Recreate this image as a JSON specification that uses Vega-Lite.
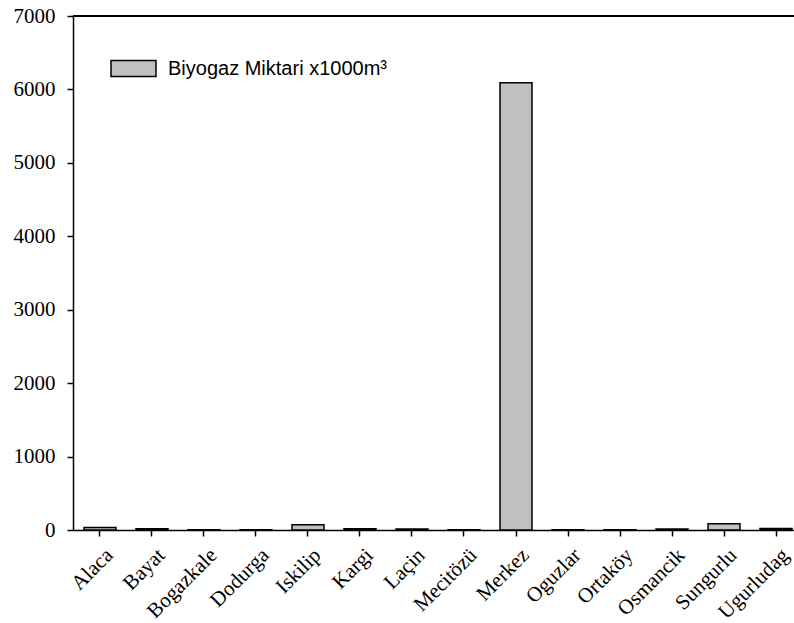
{
  "$schema": "https://vega.github.io/schema/vega-lite/v6.json",
  "autosize": {"type": "none"},
  "padding": {"left": 73, "top": 16, "right": 0, "bottom": 93},
  "width": 721,
  "height": 514,
  "background": "white",
  "config": {
    "view": {"stroke": null},
    "axis": {
      "domainColor": "black",
      "domainWidth": 1.5,
      "tickColor": "black",
      "tickWidth": 1.5,
      "tickSize": 6,
      "grid": false,
      "labelColor": "black",
      "labelFont": "Liberation Serif",
      "labelFontSize": 21,
      "title": null
    }
  },
  "data": {
    "values": [
      {"ilce": "Alaca", "biyogaz": 35, "series": "Biyogaz Miktari x1000m³"},
      {"ilce": "Bayat", "biyogaz": 18, "series": "Biyogaz Miktari x1000m³"},
      {"ilce": "Bogazkale", "biyogaz": 2, "series": "Biyogaz Miktari x1000m³"},
      {"ilce": "Dodurga", "biyogaz": 2, "series": "Biyogaz Miktari x1000m³"},
      {"ilce": "Iskilip", "biyogaz": 72, "series": "Biyogaz Miktari x1000m³"},
      {"ilce": "Kargi", "biyogaz": 18, "series": "Biyogaz Miktari x1000m³"},
      {"ilce": "Laçin", "biyogaz": 15, "series": "Biyogaz Miktari x1000m³"},
      {"ilce": "Mecitözü", "biyogaz": 3, "series": "Biyogaz Miktari x1000m³"},
      {"ilce": "Merkez", "biyogaz": 6090, "series": "Biyogaz Miktari x1000m³"},
      {"ilce": "Oguzlar", "biyogaz": 2, "series": "Biyogaz Miktari x1000m³"},
      {"ilce": "Ortaköy", "biyogaz": 2, "series": "Biyogaz Miktari x1000m³"},
      {"ilce": "Osmancik", "biyogaz": 15, "series": "Biyogaz Miktari x1000m³"},
      {"ilce": "Sungurlu", "biyogaz": 86, "series": "Biyogaz Miktari x1000m³"},
      {"ilce": "Ugurludag", "biyogaz": 20, "series": "Biyogaz Miktari x1000m³"}
    ]
  },
  "layer": [
    {
      "mark": {"type": "bar", "stroke": "black", "strokeWidth": 1.5},
      "encoding": {
        "x": {
          "field": "ilce",
          "type": "nominal",
          "sort": null,
          "scale": {"paddingInner": 0.385, "paddingOuter": 0.125, "align": 0.846},
          "axis": {"labelAngle": -45, "labelPadding": 8, "labelOffset": 2}
        },
        "y": {
          "field": "biyogaz",
          "type": "quantitative",
          "scale": {"domain": [0, 7000], "nice": false},
          "axis": {"values": [0, 1000, 2000, 3000, 4000, 5000, 6000, 7000], "format": "d", "labelPadding": 12}
        },
        "fill": {
          "field": "series",
          "type": "nominal",
          "scale": {"range": ["#c0c0c0"]},
          "legend": {
            "title": null,
            "orient": "none",
            "legendX": 37,
            "legendY": 29,
            "padding": 0,
            "symbolType": "M-1,-0.356H1V0.356H-1Z",
            "symbolSize": 2025,
            "symbolStrokeColor": "black",
            "symbolStrokeWidth": 1.5,
            "symbolFillColor": "#c0c0c0",
            "labelFont": "Liberation Sans",
            "labelFontSize": 20,
            "labelColor": "black",
            "labelOffset": 11,
            "labelLimit": 400
          }
        }
      }
    },
    {
      "mark": {"type": "rule", "color": "black", "strokeWidth": 1.5},
      "encoding": {"y": {"datum": 7000}}
    }
  ]
}
